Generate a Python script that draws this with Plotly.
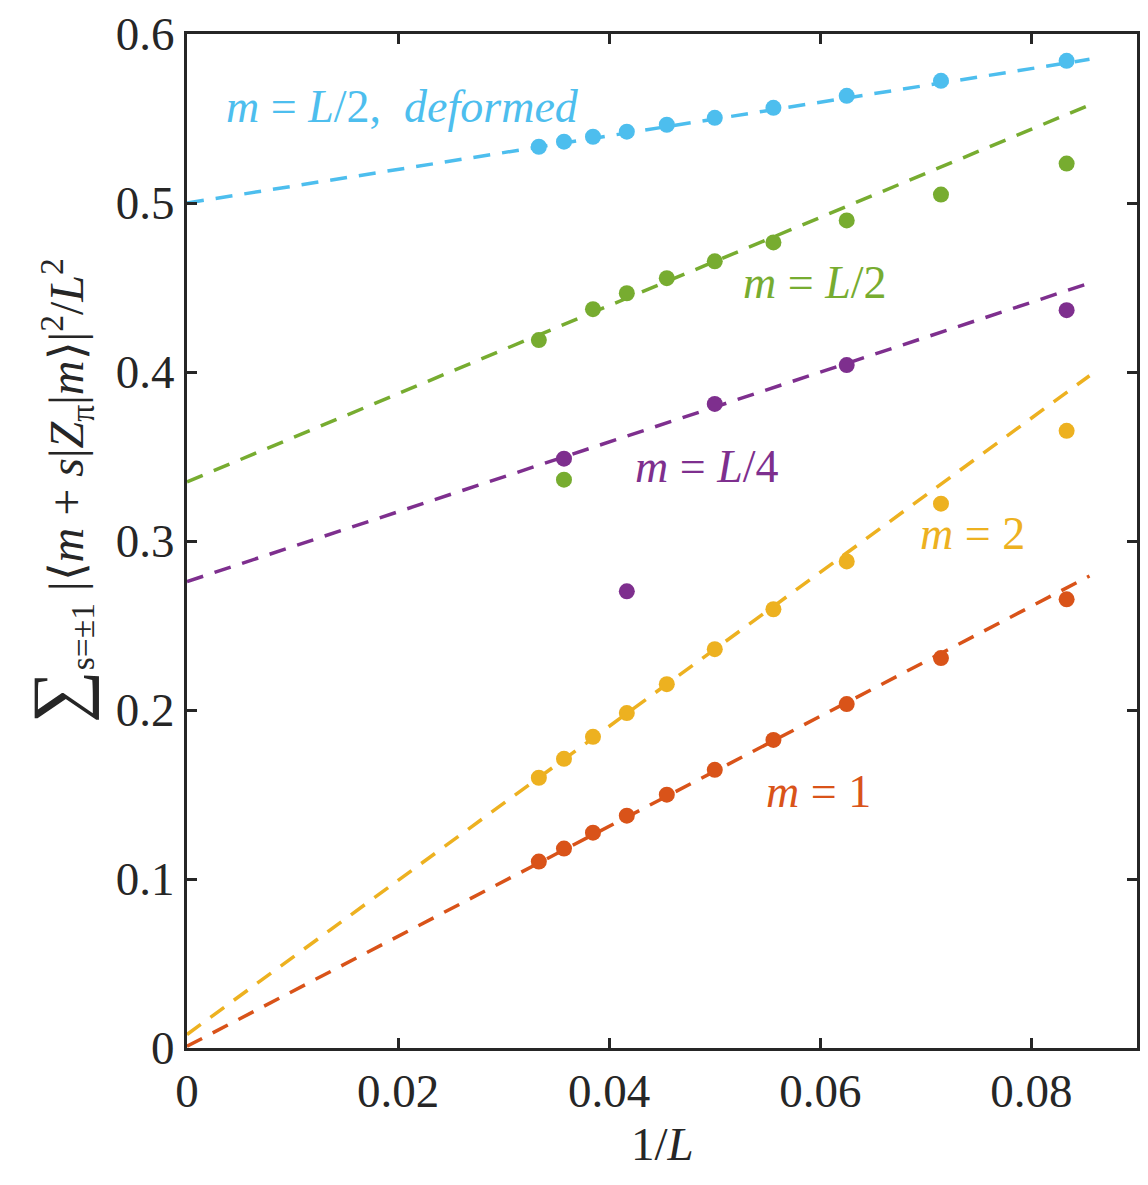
import plotly.graph_objects as go

# 1/L values for L = 30, 28, 26, 24, 22, 20, 18, 16, 14, 12
L_vals = [30, 28, 26, 24, 22, 20, 18, 16, 14, 12]
inv_L = [1.0 / L for L in L_vals]

# m = L/2, deformed (cyan)
y_half_def = [0.5333, 0.5363, 0.5392, 0.5422, 0.5463, 0.5504, 0.5563, 0.5634, 0.5723, 0.5841]
# m = L/2 (green)
y_half = [0.4189, 0.3363, 0.4372, 0.4466, 0.4555, 0.4655, 0.4767, 0.4897, 0.5050, 0.5233]
# m = L/4 (purple) -- only L = 28, 24, 20, 16, 12
inv_L_quarter = [1/28, 1/24, 1/20, 1/16, 1/12]
y_quarter = [0.3487, 0.2702, 0.3811, 0.4041, 0.4366]
# m = 2 (yellow)
y_m2 = [0.1599, 0.1711, 0.1841, 0.1982, 0.2153, 0.2360, 0.2596, 0.2879, 0.3221, 0.3652]
# m = 1 (red)
y_m1 = [0.1103, 0.1180, 0.1274, 0.1375, 0.1499, 0.1646, 0.1823, 0.2035, 0.2307, 0.2655]

# dashed fit lines: end points
fit_x = [0.0, 0.0855]
fit_half_def = [0.500, 0.585]
fit_half = [0.335, 0.558]
fit_quarter = [0.276, 0.4526]
fit_m2 = [0.008, 0.3978]
fit_m1 = [0.001, 0.2793]

c_cyan = "#4DBEEE"
c_green = "#77AC30"
c_purple = "#7E2F8E"
c_yellow = "#EDB120"
c_red = "#D95319"

series = [
    (inv_L, y_half_def, fit_half_def, c_cyan),
    (inv_L, y_half, fit_half, c_green),
    (inv_L_quarter, y_quarter, fit_quarter, c_purple),
    (inv_L, y_m2, fit_m2, c_yellow),
    (inv_L, y_m1, fit_m1, c_red),
]

fig = go.Figure()
for xs, ys, fy, col in series:
    fig.add_trace(go.Scatter(x=fit_x, y=fy, mode="lines",
                             line=dict(color=col, width=3.5, dash="17px,12px"),
                             showlegend=False, hoverinfo="skip"))
for xs, ys, fy, col in series:
    fig.add_trace(go.Scatter(x=xs, y=ys, mode="markers",
                             marker=dict(color=col, size=16, line=dict(width=0)),
                             showlegend=False))

FONT = "Liberation Serif"
labels = [
    (0.0204, 0.557, "<i>m</i> = <i>L</i>/2,  <i>deformed</i>", c_cyan),
    (0.0595, 0.453, "<i>m</i> = <i>L</i>/2", c_green),
    (0.0493, 0.344, "<i>m</i> = <i>L</i>/4", c_purple),
    (0.0744, 0.3044, "<i>m</i> = 2", c_yellow),
    (0.0598, 0.152, "<i>m</i> = 1", c_red),
]
for x, y, t, col in labels:
    fig.add_annotation(x=x, y=y, text=t, showarrow=False, xanchor="center", yanchor="middle",
                       font=dict(family=FONT, size=46, color=col))

# axis titles
fig.add_annotation(xref="paper", yref="paper", x=0.5, y=-0.095, text="1/<i>L</i>",
                   showarrow=False, xanchor="center", yanchor="middle",
                   font=dict(family=FONT, size=47, color="#262626"))
fig.add_annotation(xref="paper", yref="paper", x=-0.135, y=0.55, textangle=-90,
                   text='<span style="font-size:74px">∑</span><sub>s=±1</sub> |⟨<i>m</i> + <i>s</i>|<i>Z</i><sub>π</sub>|<i>m</i>⟩|<sup>2</sup>/<i>L</i><sup>2</sup>',
                   showarrow=False, xanchor="center", yanchor="middle",
                   font=dict(family=FONT, size=48, color="#262626"))

axis_common = dict(showline=True, linecolor="#262626", linewidth=3, mirror="ticks",
                   ticks="inside", ticklen=10, tickwidth=3, tickcolor="#262626",
                   showgrid=False, zeroline=False,
                   tickfont=dict(family=FONT, size=47, color="#262626"))

fig.update_xaxes(range=[0, 0.09], tickvals=[0, 0.02, 0.04, 0.06, 0.08],
                 ticktext=["0", "0.02", "0.04", "0.06", "0.08"], **axis_common)
fig.update_yaxes(range=[0, 0.6], tickvals=[0, 0.1, 0.2, 0.3, 0.4, 0.5, 0.6],
                 ticktext=["0", "0.1", "0.2", "0.3", "0.4", "0.5", "0.6"], **axis_common)

fig.update_layout(width=1148, height=1185, margin=dict(l=187, r=8, t=31, b=137),
                  plot_bgcolor="white", paper_bgcolor="white", showlegend=False)

fig.write_html("out.html")
